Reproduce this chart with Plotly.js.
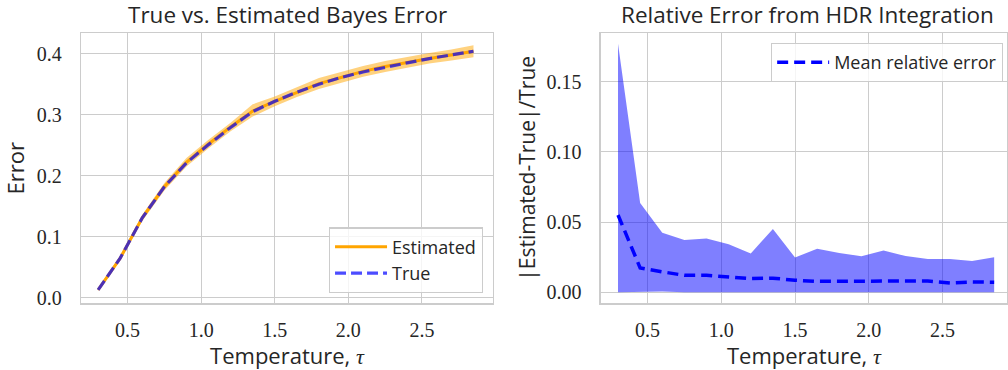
<!DOCTYPE html>
<html>
<head>
<meta charset="utf-8">
<script src="https://cdn.plot.ly/plotly-3.0.1.min.js"></script>
<style>
  html, body { margin: 0; padding: 0; background: #fff; }
  #chart { width: 1008px; height: 370px; }
</style>
</head>
<body>
<div id="chart"></div>
<script>
// Temperatures at which the Bayes error was evaluated
const temperatures = [0.30, 0.45, 0.60, 0.75, 0.90, 1.05, 1.20, 1.35, 1.50,
                      1.65, 1.80, 1.95, 2.10, 2.25, 2.40, 2.55, 2.70, 2.85];

// Left panel: true Bayes error and the estimated one with its spread
const trueError = [0.013, 0.065, 0.131, 0.182, 0.221, 0.251, 0.279, 0.305, 0.322,
                   0.337, 0.350, 0.361, 0.370, 0.378, 0.385, 0.392, 0.398, 0.404];
const estimatedError = [0.013, 0.065, 0.131, 0.182, 0.222, 0.252, 0.280, 0.306, 0.322,
                        0.337, 0.351, 0.361, 0.371, 0.379, 0.386, 0.392, 0.398, 0.404];
const estimatedLower = [0.011, 0.061, 0.126, 0.176, 0.215, 0.245, 0.273, 0.297, 0.314,
                        0.329, 0.342, 0.352, 0.362, 0.370, 0.377, 0.384, 0.389, 0.394];
const estimatedUpper = [0.015, 0.069, 0.136, 0.188, 0.229, 0.259, 0.287, 0.317, 0.330,
                        0.345, 0.360, 0.370, 0.380, 0.388, 0.395, 0.401, 0.407, 0.414];

// Right panel: relative error of the HDR integration, mean and band
const meanRelError = [0.055, 0.0173, 0.0145, 0.012, 0.012, 0.011, 0.0097, 0.0100, 0.0085,
                      0.0077, 0.0078, 0.0080, 0.0082, 0.0082, 0.0080, 0.0066, 0.0073, 0.0071];
const relErrorLower = [0.000, 0.0003, 0.0004, 0.000, 0.000, 0.0002, 0.000, 0.000, 0.000,
                       0.000, 0.000, 0.000, 0.000, 0.000, 0.000, 0.000, 0.000, 0.000];
const relErrorUpper = [0.177, 0.0635, 0.0424, 0.0372, 0.0382, 0.0342, 0.0276, 0.0450, 0.0247,
                       0.0310, 0.0280, 0.0256, 0.0297, 0.0257, 0.0236, 0.0236, 0.0222, 0.0249];

const leftTicks = [0.0, 0.1, 0.2, 0.3, 0.4];
const rightTicks = [0.00, 0.05, 0.10, 0.15];
const xTicks = [0.5, 1.0, 1.5, 2.0, 2.5];

const SANS = "'Open Sans', 'Noto Sans', sans-serif";
const SERIF = "'Liberation Serif', 'DejaVu Serif', serif";
const GRID = '#cccccc';
const INK = '#262626';
const TAU = "Temperature, <span style='font-family:Liberation Serif'><i>τ</i></span>";

const traces = [
  // orange spread around the estimate
  { x: temperatures, y: estimatedLower, xaxis: 'x', yaxis: 'y', mode: 'lines',
    line: { width: 0, color: 'rgba(255,165,0,0)' }, showlegend: false, hoverinfo: 'skip' },
  { x: temperatures, y: estimatedUpper, xaxis: 'x', yaxis: 'y', mode: 'lines', fill: 'tonexty',
    fillcolor: 'rgba(255,165,0,0.5)', line: { width: 0, color: 'rgba(255,165,0,0)' },
    showlegend: false, hoverinfo: 'skip' },
  { x: temperatures, y: estimatedError, xaxis: 'x', yaxis: 'y', mode: 'lines', name: 'Estimated',
    line: { color: '#ffa500', width: 3 }, legend: 'legend' },
  { x: temperatures, y: trueError, xaxis: 'x', yaxis: 'y', mode: 'lines', name: 'True',
    line: { color: 'rgba(0,0,255,0.7)', width: 3.2, dash: '11px,5px' }, legend: 'legend' },

  // blue band of relative errors
  { x: temperatures, y: relErrorLower, xaxis: 'x2', yaxis: 'y2', mode: 'lines',
    line: { width: 0, color: 'rgba(0,0,255,0)' }, showlegend: false, hoverinfo: 'skip' },
  { x: temperatures, y: relErrorUpper, xaxis: 'x2', yaxis: 'y2', mode: 'lines', fill: 'tonexty',
    fillcolor: 'rgba(0,0,255,0.5)', line: { width: 0, color: 'rgba(0,0,255,0)' },
    showlegend: false, hoverinfo: 'skip' },
  { x: temperatures, y: meanRelError, xaxis: 'x2', yaxis: 'y2', mode: 'lines',
    name: 'Mean relative error', line: { color: '#0000ff', width: 3.5, dash: '11px,6px' },
    legend: 'legend2' }
];

function xAxis(domain, range, anchor) {
  return {
    domain: domain, range: range, anchor: anchor,
    tickvals: xTicks, ticktext: xTicks.map(v => v.toFixed(1)),
    ticks: '', ticklabelstandoff: 8,
    tickfont: { family: SERIF, size: 20, color: INK },
    showgrid: true, gridcolor: GRID, gridwidth: 1, zeroline: false,
    showline: true, mirror: true, linecolor: GRID, linewidth: 1.3,
    title: { text: TAU, font: { family: SANS, size: 22, color: INK }, standoff: 3 }
  };
}

function yAxis(domain, range, anchor, ticks, digits, title, size, standoff) {
  return {
    domain: domain, range: range, anchor: anchor,
    tickvals: ticks, ticktext: ticks.map(v => v.toFixed(digits)),
    ticks: '', ticklabelstandoff: 14,
    tickfont: { family: SERIF, size: 20, color: INK },
    showgrid: true, gridcolor: GRID, gridwidth: 1, zeroline: false,
    showline: true, mirror: true, linecolor: GRID, linewidth: 1.3,
    title: { text: title, font: { family: SANS, size: size, color: INK }, standoff: standoff }
  };
}

const layout = {
  width: 1008, height: 370,
  margin: { l: 0, r: 0, t: 0, b: 0 },
  paper_bgcolor: '#ffffff', plot_bgcolor: '#ffffff',
  showlegend: true,
  xaxis: xAxis([0.0804, 0.489], [0.184, 2.982], 'y'),
  yaxis: yAxis([0.180, 0.910], [-0.0092, 0.4334], 'x', leftTicks, 1, 'Error', 22, 10),
  xaxis2: xAxis([0.596, 0.999], [0.183, 2.937], 'y2'),
  yaxis2: yAxis([0.180, 0.910], [-0.008, 0.1845], 'x2', rightTicks, 2,
                '|Estimated-True|/True', 21, 5),
  legend: {
    x: 0.479, y: 0.207, xanchor: 'right', yanchor: 'bottom', traceorder: 'normal',
    bgcolor: 'rgba(255,255,255,0.8)', bordercolor: GRID, borderwidth: 1.2,
    font: { family: SANS, size: 18, color: INK }, itemwidth: 52, tracegroupgap: 0
  },
  legend2: {
    x: 0.995, y: 0.884, xanchor: 'right', yanchor: 'top', traceorder: 'normal',
    bgcolor: 'rgba(255,255,255,0.8)', bordercolor: GRID, borderwidth: 1.2,
    font: { family: SANS, size: 18, color: INK }, itemwidth: 52
  },
  annotations: [
    { text: 'True vs. Estimated Bayes Error', xref: 'paper', yref: 'paper',
      x: 0.285, y: 1.0, xanchor: 'center', yanchor: 'top', yshift: 3, showarrow: false,
      font: { family: SANS, size: 22.5, color: INK } },
    { text: 'Relative Error from HDR Integration', xref: 'paper', yref: 'paper',
      x: 0.801, y: 1.0, xanchor: 'center', yanchor: 'top', yshift: 3, showarrow: false,
      font: { family: SANS, size: 22.5, color: INK } }
  ]
};

Plotly.newPlot('chart', traces, layout, { displayModeBar: false, staticPlot: true });
</script>
</body>
</html>
